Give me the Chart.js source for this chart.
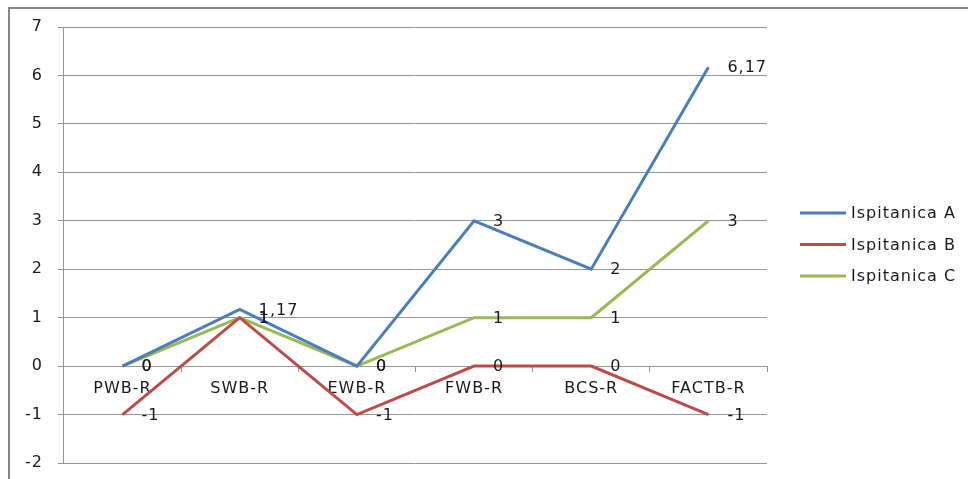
<!DOCTYPE html>
<html>
<head>
<meta charset="utf-8">
<script src="https://cdn.jsdelivr.net/npm/chart.js@4/dist/chart.umd.min.js"></script>
<style>
  html, body { margin: 0; padding: 0; background: #fff; }
  #wrap { position: relative; width: 968px; height: 479px; overflow: hidden; }
  #frame { position: absolute; left: 8px; top: 7px; width: 2000px; height: 2000px;
           border-left: 2px solid #868686; border-top: 2px solid #868686; }
  canvas { position: absolute; left: 0; top: 0; }
</style>
</head>
<body>
<div id="wrap">
  <div id="frame"></div>
  <canvas id="chart" width="968" height="479"></canvas>
</div>
<script>
const categories = ["PWB-R", "SWB-R", "EWB-R", "FWB-R", "BCS-R", "FACTB-R"];
const seriesNames = ["Ispitanica A", "Ispitanica B", "Ispitanica C"];
const valuesA = [0, 1.17, 0, 3, 2, 6.17];
const valuesB = [-1, 1, -1, 0, 0, -1];
const valuesC = [0, 1, 0, 1, 1, 3];
const yMin = -2;
const yMax = 7;
const yStep = 1;

const COLORS = ["#4a7ebb", "#be4b48", "#98b954"];
const FONT = "'DejaVu Sans', sans-serif";
const TEXT = "#1a1a1a";
const GRID = "#959595";

// the original text is a bit wider than DejaVu, so loosen the spacing a little
const wideText = {
  id: "wideText",
  beforeInit(chart) {
    chart.ctx.letterSpacing = "1px";
  },
  beforeDraw(chart) {
    chart.ctx.letterSpacing = "1px";
  },
};

// value labels to the right of each point, comma as decimal mark
const pointLabels = {
  id: "pointLabels",
  afterDatasetsDraw(chart) {
    const ctx = chart.ctx;
    ctx.save();
    ctx.font = "16px " + FONT;
    ctx.fillStyle = TEXT;
    ctx.textAlign = "left";
    ctx.textBaseline = "middle";
    chart.data.datasets.forEach((ds, i) => {
      chart.getDatasetMeta(i).data.forEach((pt, j) => {
        ctx.fillText(String(ds.data[j]).replace(".", ","), pt.x + 19, pt.y + 1);
      });
    });
    ctx.restore();
  },
};

// excel style legend: short line + name, stacked on the right
const sideLegend = {
  id: "sideLegend",
  afterDraw(chart) {
    const ctx = chart.ctx;
    ctx.save();
    ctx.font = "16px " + FONT;
    ctx.textAlign = "left";
    ctx.textBaseline = "middle";
    chart.data.datasets.forEach((ds, i) => {
      const y = 213 + i * 31.5;
      ctx.strokeStyle = ds.borderColor;
      ctx.lineWidth = 3;
      ctx.beginPath();
      ctx.moveTo(800, y);
      ctx.lineTo(846, y);
      ctx.stroke();
      ctx.fillStyle = TEXT;
      ctx.fillText(ds.label, 851, y + 1);
    });
    ctx.restore();
  },
};

new Chart(document.getElementById("chart"), {
  type: "line",
  data: {
    labels: categories,
    datasets: [valuesA, valuesB, valuesC].map((vals, i) => ({
      label: seriesNames[i],
      data: vals,
      borderColor: COLORS[i],
      backgroundColor: COLORS[i],
      borderWidth: 3,
      pointRadius: 0,
      tension: 0,
      fill: false,
    })),
  },
  options: {
    responsive: false,
    animation: false,
    devicePixelRatio: 1,
    layout: { padding: { left: 12, right: 201, top: 27, bottom: 16 } },
    plugins: {
      legend: { display: false },
      tooltip: { enabled: false },
    },
    scales: {
      x: {
        position: { y: 0 },
        offset: true,
        // axis sits on the zero line, so it should not eat space at the bottom
        afterFit(scale) { scale.height = 0; },
        grid: { offset: true, drawOnChartArea: false, tickLength: 6, color: GRID },
        border: { display: false },
        ticks: { color: TEXT, font: { family: FONT, size: 16 }, padding: 7, maxRotation: 0 },
      },
      y: {
        min: yMin,
        max: yMax,
        // layout padding alone decides the top/bottom of the plot
        afterFit(scale) { scale.paddingTop = 0; scale.paddingBottom = 0; },
        ticks: { stepSize: yStep, color: TEXT, font: { family: FONT, size: 16 }, padding: 15 },
        grid: { color: GRID, tickLength: 6 },
        border: { color: GRID },
      },
    },
  },
  plugins: [wideText, pointLabels, sideLegend],
});
</script>
</body>
</html>
